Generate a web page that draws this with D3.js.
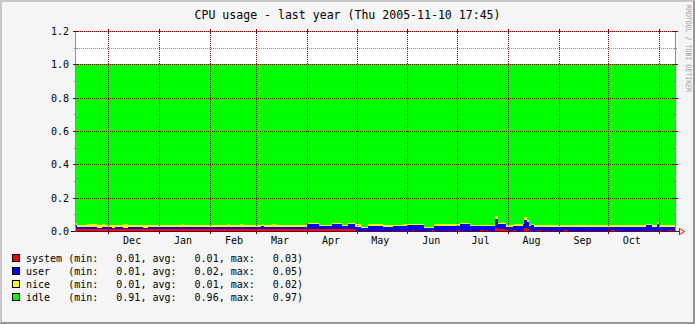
<!DOCTYPE html>
<html><head><meta charset="utf-8">
<script src="https://cdn.jsdelivr.net/npm/d3@7"></script>
<style>html,body{margin:0;padding:0;background:#f5f5f5}svg{display:block}text{white-space:pre}</style>
</head><body>
<svg id="c" width="695" height="324"></svg>
<script>
// ---------------- data ----------------
const titleText = "CPU usage - last year (Thu 2005-11-10 17:45)";
const watermark = "RRDTOOL / TOBI OETIKER";
const dates = [
"2004-11-10","2004-11-12","2004-11-18","2004-11-24","2004-11-27","2004-11-29","2004-12-03","2004-12-05","2004-12-10","2004-12-13",
"2004-12-22","2004-12-25","2005-01-14","2005-01-16","2005-02-11","2005-02-13","2005-02-19","2005-02-21","2005-03-04","2005-03-06",
"2005-03-10","2005-03-13","2005-04-01","2005-04-08","2005-04-16","2005-04-22","2005-04-26","2005-04-30","2005-05-04","2005-05-08",
"2005-05-17","2005-05-23","2005-05-29","2005-06-01","2005-06-04","2005-06-05","2005-06-11","2005-06-16","2005-06-17","2005-06-26",
"2005-06-27","2005-07-01","2005-07-03","2005-07-09","2005-07-15","2005-07-17","2005-07-19","2005-07-20","2005-07-21","2005-07-24",
"2005-07-26","2005-07-28","2005-07-29","2005-07-31","2005-08-02","2005-08-04","2005-08-06","2005-08-10","2005-08-11","2005-08-13",
"2005-08-14","2005-08-15","2005-08-17","2005-08-19","2005-08-21","2005-08-24","2005-08-25","2005-09-04","2005-09-06","2005-09-18",
"2005-09-19","2005-10-03","2005-10-05","2005-10-22","2005-10-23","2005-10-24","2005-10-27","2005-10-28","2005-10-31","2005-11-01",
"2005-11-02","2005-11-06","2005-11-07","2005-11-08","2005-11-09"];
const system = [
0.012,0.012,0.012,0.012,0.012,0.012,0.012,0.012,0.012,0.012,
0.012,0.012,0.012,0.012,0.012,0.012,0.012,0.012,0.012,0.012,
0.012,0.012,0.012,0.012,0.012,0.012,0.012,0.002,0.002,0.002,
0.002,0.002,0.002,0.002,0.008,0.002,0.002,0.007,0.002,0.007,
0.002,0.007,0.002,0.002,0.007,0.002,0.007,0.002,0.002,0.020,
0.010,0.010,0.010,0.008,0.002,0.007,0.002,0.002,0.020,0.015,
0.002,0.002,0.002,0.007,0.002,0.007,0.002,0.007,0.002,0.007,
0.002,0.007,0.002,0.007,0.002,0.002,0.007,0.002,0.002,0.007,
0.002,0.007,0.002,0.007,0.002];
const user = [
0.025,0.013,0.012,0.008,0.012,0.012,0.008,0.012,0.009,0.012,
0.008,0.012,0.012,0.012,0.012,0.012,0.012,0.012,0.017,0.012,
0.012,0.012,0.030,0.018,0.030,0.018,0.029,0.024,0.014,0.030,
0.022,0.026,0.030,0.032,0.026,0.032,0.014,0.009,0.029,0.024,
0.029,0.024,0.038,0.026,0.021,0.026,0.021,0.026,0.026,0.050,
0.030,0.034,0.030,0.016,0.022,0.024,0.029,0.040,0.048,0.040,
0.029,0.033,0.022,0.017,0.022,0.017,0.022,0.017,0.022,0.017,
0.020,0.015,0.020,0.015,0.020,0.034,0.029,0.020,0.041,0.015,
0.020,0.015,0.020,0.015,0.022];
const nice = [
0.012,0.014,0.016,0.019,0.020,0.015,0.019,0.015,0.021,0.015,
0.019,0.015,0.020,0.015,0.020,0.015,0.020,0.015,0.016,0.015,
0.020,0.015,0.008,0.006,0.008,0.006,0.008,0.014,0.010,0.009,
0.015,0.006,0.008,0.006,0.006,0.006,0.009,0.009,0.009,0.009,
0.009,0.009,0.006,0.009,0.009,0.009,0.009,0.009,0.006,0.020,
0.006,0.008,0.006,0.010,0.010,0.009,0.009,0.009,0.017,0.012,
0.006,0.006,0.015,0.015,0.015,0.015,0.015,0.015,0.015,0.015,
0.017,0.017,0.017,0.017,0.017,0.009,0.009,0.017,0.009,0.017,
0.017,0.017,0.017,0.017,0.015];
const idle = [
0.951,0.961,0.960,0.961,0.956,0.961,0.961,0.961,0.958,0.961,
0.961,0.961,0.956,0.961,0.956,0.961,0.956,0.961,0.955,0.961,
0.956,0.961,0.950,0.964,0.950,0.964,0.951,0.960,0.974,0.959,
0.961,0.966,0.960,0.960,0.960,0.960,0.975,0.975,0.960,0.960,
0.960,0.960,0.954,0.963,0.963,0.963,0.963,0.963,0.966,0.910,
0.954,0.948,0.954,0.966,0.966,0.960,0.960,0.949,0.915,0.933,
0.963,0.959,0.961,0.961,0.961,0.961,0.961,0.961,0.961,0.961,
0.961,0.961,0.961,0.961,0.961,0.955,0.955,0.961,0.948,0.961,
0.961,0.961,0.961,0.961,0.961];

const seriesNames = ["system","user","nice","idle"];
const seriesColors = ["#ff0000","#0000ff","#ffff00","#00ff00"];
const legendMin = [0.01,0.01,0.01,0.91];
const legendAvg = [0.01,0.02,0.01,0.96];
const legendMax = [0.03,0.05,0.02,0.97];

const yMajorValues = [0,0.2,0.4,0.6,0.8,1.0,1.2];
const yMajorLabels = ["0.0","0.2","0.4","0.6","0.8","1.0","1.2"];
const yMinorValues = [0.1,0.3,0.5,0.7,0.9,1.1];
const monthLabels = ["Dec","Jan","Feb","Mar","Apr","May","Jun","Jul","Aug","Sep","Oct"];

// ---------------- drawing ----------------
const W = 695, H = 324;
const FONT = "'DejaVu Sans Mono', monospace";
const MGRID = "#800000", GRID = "#8f8f8f";
const start = new Date(2004, 10, 10, 17, 45), end = new Date(2005, 10, 10, 17, 45);
const parse = d3.timeParse("%Y-%m-%d");
const x = d3.scaleTime().domain([start, end]).range([75, 675]);
const y = d3.scaleLinear().domain([0, 1.2]).range([231, 31]);
const X0 = 75, X1 = 675, Y0 = 231, Y1 = 31;
const svg = d3.select("#c");

// background and 3D frame
svg.append("rect").attr("width", W).attr("height", H).attr("fill", "#f5f5f5");
const fr = svg.append("g").attr("shape-rendering", "crispEdges");
fr.append("rect").attr("x",0).attr("y",0).attr("width",W).attr("height",1).attr("fill","#c8c8c8");
fr.append("rect").attr("x",1).attr("y",1).attr("width",W-2).attr("height",1).attr("fill","#c8c8c8");
fr.append("rect").attr("x",0).attr("y",0).attr("width",1).attr("height",H).attr("fill","#c8c8c8");
fr.append("rect").attr("x",1).attr("y",1).attr("width",1).attr("height",H-2).attr("fill","#c8c8c8");
fr.append("rect").attr("x",W-1).attr("y",0).attr("width",1).attr("height",H).attr("fill","#969696");
fr.append("rect").attr("x",0).attr("y",H-1).attr("width",W).attr("height",1).attr("fill","#969696");
fr.append("rect").attr("x",W-2).attr("y",1).attr("width",1).attr("height",H-2).attr("fill","#969696");
fr.append("rect").attr("x",1).attr("y",H-2).attr("width",W-2).attr("height",1).attr("fill","#969696");

// canvas
svg.append("rect").attr("x", X0).attr("y", Y1).attr("width", X1 - X0).attr("height", Y0 - Y1)
  .attr("fill", "#ffffff").attr("shape-rendering", "crispEdges");

svg.append("clipPath").attr("id", "plot").append("rect")
  .attr("x", X0).attr("y", Y1).attr("width", X1 - X0).attr("height", Y0 - Y1);

// stacked areas
const rows = dates.map((d, i) => ({date: parse(d), system: system[i], user: user[i], nice: nice[i], idle: idle[i]}));
rows.push(Object.assign({}, rows[rows.length - 1], {date: end}));
const stacked = d3.stack().keys(seriesNames)(rows);
const area = d3.area().curve(d3.curveStepAfter)
  .x(d => x(d.data.date)).y0(d => y(d[0])).y1(d => y(d[1]));
svg.append("g").attr("clip-path", "url(#plot)").selectAll("path").data(stacked).join("path")
  .attr("d", area).attr("fill", (d, i) => seriesColors[i]).attr("shape-rendering", "crispEdges");

const px = v => Math.round(v) + 0.5;
const lines = svg.append("g").attr("shape-rendering", "crispEdges").attr("stroke-width", 1);
function line(x1, y1, x2, y2, color, dash) {
  const l = lines.append("line").attr("x1", x1).attr("y1", y1).attr("x2", x2).attr("y2", y2).attr("stroke", color);
  if (dash) l.attr("stroke-dasharray", dash);
  return l;
}
// axis frame lines
line(X1 + 0.5, Y1, X1 + 0.5, Y0 + 1, GRID);
line(X0, Y1 + 0.5, X1 + 1, Y1 + 0.5, GRID);
line(X0 + 0.5, Y1, X0 + 0.5, Y0 + 1, GRID);
line(X0 - 4, Y0 + 0.5, X1 + 5, Y0 + 0.5, "#000000");

// minor horizontal grid
yMinorValues.forEach(v => {
  const yy = px(y(v));
  line(X0 - 1, yy, X0 + 2, yy, GRID);
  line(X1 - 1, yy, X1 + 2, yy, GRID);
  line(X0, yy, X1, yy, GRID, "1,1");
});
// major horizontal grid
yMajorValues.forEach(v => {
  const yy = px(y(v));
  line(X0 + 1, yy, X1, yy, MGRID, "1,1");
  line(X0 - 2, yy, X0 + 3, yy, MGRID);
  line(X1 - 2, yy, X1 + 3, yy, MGRID);
});
// vertical month grid
const monthStarts = d3.timeMonth.range(d3.timeMonth.ceil(start), end);
monthStarts.forEach(m => {
  const xx = px(x(m));
  line(xx, Y1, xx, Y0, MGRID, "1,1");
  line(xx, Y0 - 2, xx, Y0 + 3, MGRID);
  line(xx, Y1 - 2, xx, Y1 + 3, MGRID);
});
// arrow
const ax = X1 + 4, ay = Y0 + 0.5;
line(ax + 0.5, ay - 3.5, ax + 0.5, ay + 3.5, "#ff0000");
svg.append("path").attr("d", `M${ax + 0.5},${ay - 3}L${ax + 5.5},${ay}L${ax + 0.5},${ay + 3}`)
  .attr("fill", "none").attr("stroke", "#ff0000").attr("stroke-width", 1);

// labels
const txt = svg.append("g").attr("font-family", FONT).attr("fill", "#000");
yMajorValues.forEach((v, i) => {
  txt.append("text").attr("x", 69).attr("y", px(y(v)) + 3.5).attr("text-anchor", "end")
    .attr("font-size", 10).text(yMajorLabels[i]);
});
monthLabels.forEach((lab, i) => {
  const mid = d3.timeHour.offset(monthStarts[i], 14 * 24 + 12);
  txt.append("text").attr("x", x(mid)).attr("y", 243.5).attr("text-anchor", "middle")
    .attr("font-size", 10).text(lab);
});
txt.append("text").attr("x", W / 2).attr("y", 19).attr("text-anchor", "middle")
  .attr("font-size", 12.5).attr("textLength", 306).attr("lengthAdjust", "spacingAndGlyphs").text(titleText);

// watermark
svg.append("text").attr("transform", "translate(686,5) rotate(90)")
  .attr("font-family", FONT).attr("font-size", 7.5).attr("fill", "#999999")
  .attr("textLength", 87).attr("lengthAdjust", "spacingAndGlyphs").text(watermark);

// legend
const f2 = d3.format(".2f");
seriesNames.forEach((name, i) => {
  const by = 254 + i * 13;
  svg.append("rect").attr("x", 12.5).attr("y", by + 0.5).attr("width", 7).attr("height", 7)
    .attr("fill", seriesColors[i]).attr("stroke", "#000").attr("stroke-width", 1).attr("shape-rendering", "crispEdges");
  const s = name.padEnd(6) + " (min:" + f2(legendMin[i]).padStart(7) + ", avg:" + f2(legendAvg[i]).padStart(7) +
    ", max:" + f2(legendMax[i]).padStart(7) + ")";
  txt.append("text").attr("x", 26).attr("y", by + 7.5).attr("font-size", 10)
    .attr("xml:space", "preserve").text(s);
});
</script>
</body></html>
